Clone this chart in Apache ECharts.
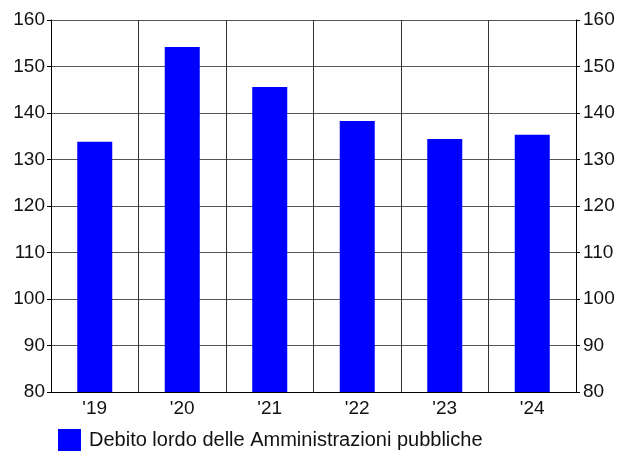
<!DOCTYPE html>
<html><head><meta charset="utf-8">
<script src="https://cdn.jsdelivr.net/npm/echarts@6/dist/echarts.min.js"></script>
<style>html,body{margin:0;padding:0;background:#fff}#c{width:624px;height:451px}</style>
</head><body><div id="c"></div>
<script>
const categories = ["'19","'20","'21","'22","'23","'24"];
const seriesName = "Debito lordo delle Amministrazioni pubbliche";
const values = [133.8, 154.2, 145.6, 138.3, 134.4, 135.3];
const yMin = 80, yMax = 160, yStep = 10;

const chart = echarts.init(document.getElementById('c'), null, {renderer:'canvas'});
const font = 'Liberation Sans, Arial, sans-serif';
const yAxisBase = {
  type:'value', min:yMin, max:yMax, interval:yStep,
  axisLine:{show:true, lineStyle:{color:'#000', width:1}},
  axisTick:{show:true, length:4, lineStyle:{color:'#000'}},
  axisLabel:{color:'#111', fontSize:19, fontFamily:font, margin:6}
};
chart.setOption({
  animation:false,
  grid:{left:51, right:48, top:20, bottom:59, containLabel:false},
  legend:{
    data:[seriesName], left:58, top:429, itemWidth:23, itemHeight:22, itemGap:8,
    icon:'rect', padding:0,
    textStyle:{fontSize:20, fontFamily:font, color:'#111', padding:[0,0,0,3]}
  },
  xAxis:{
    type:'category', data:categories,
    axisLine:{show:true, lineStyle:{color:'#000'}},
    axisTick:{show:false},
    axisLabel:{color:'#111', fontSize:19, fontFamily:font, margin:7},
    splitLine:{show:true, lineStyle:{color:'#333', width:1}}
  },
  yAxis:[
    Object.assign({}, yAxisBase, {position:'left', splitLine:{show:true, lineStyle:{color:'#555', width:1}}}),
    Object.assign({}, yAxisBase, {position:'right', splitLine:{show:false},
      axisLabel:Object.assign({}, yAxisBase.axisLabel, {margin:7})})
  ],
  series:[{
    name:seriesName, type:'bar', data:values, barWidth:'40%',
    itemStyle:{color:'#0000ff'}
  }]
});
</script></body></html>
